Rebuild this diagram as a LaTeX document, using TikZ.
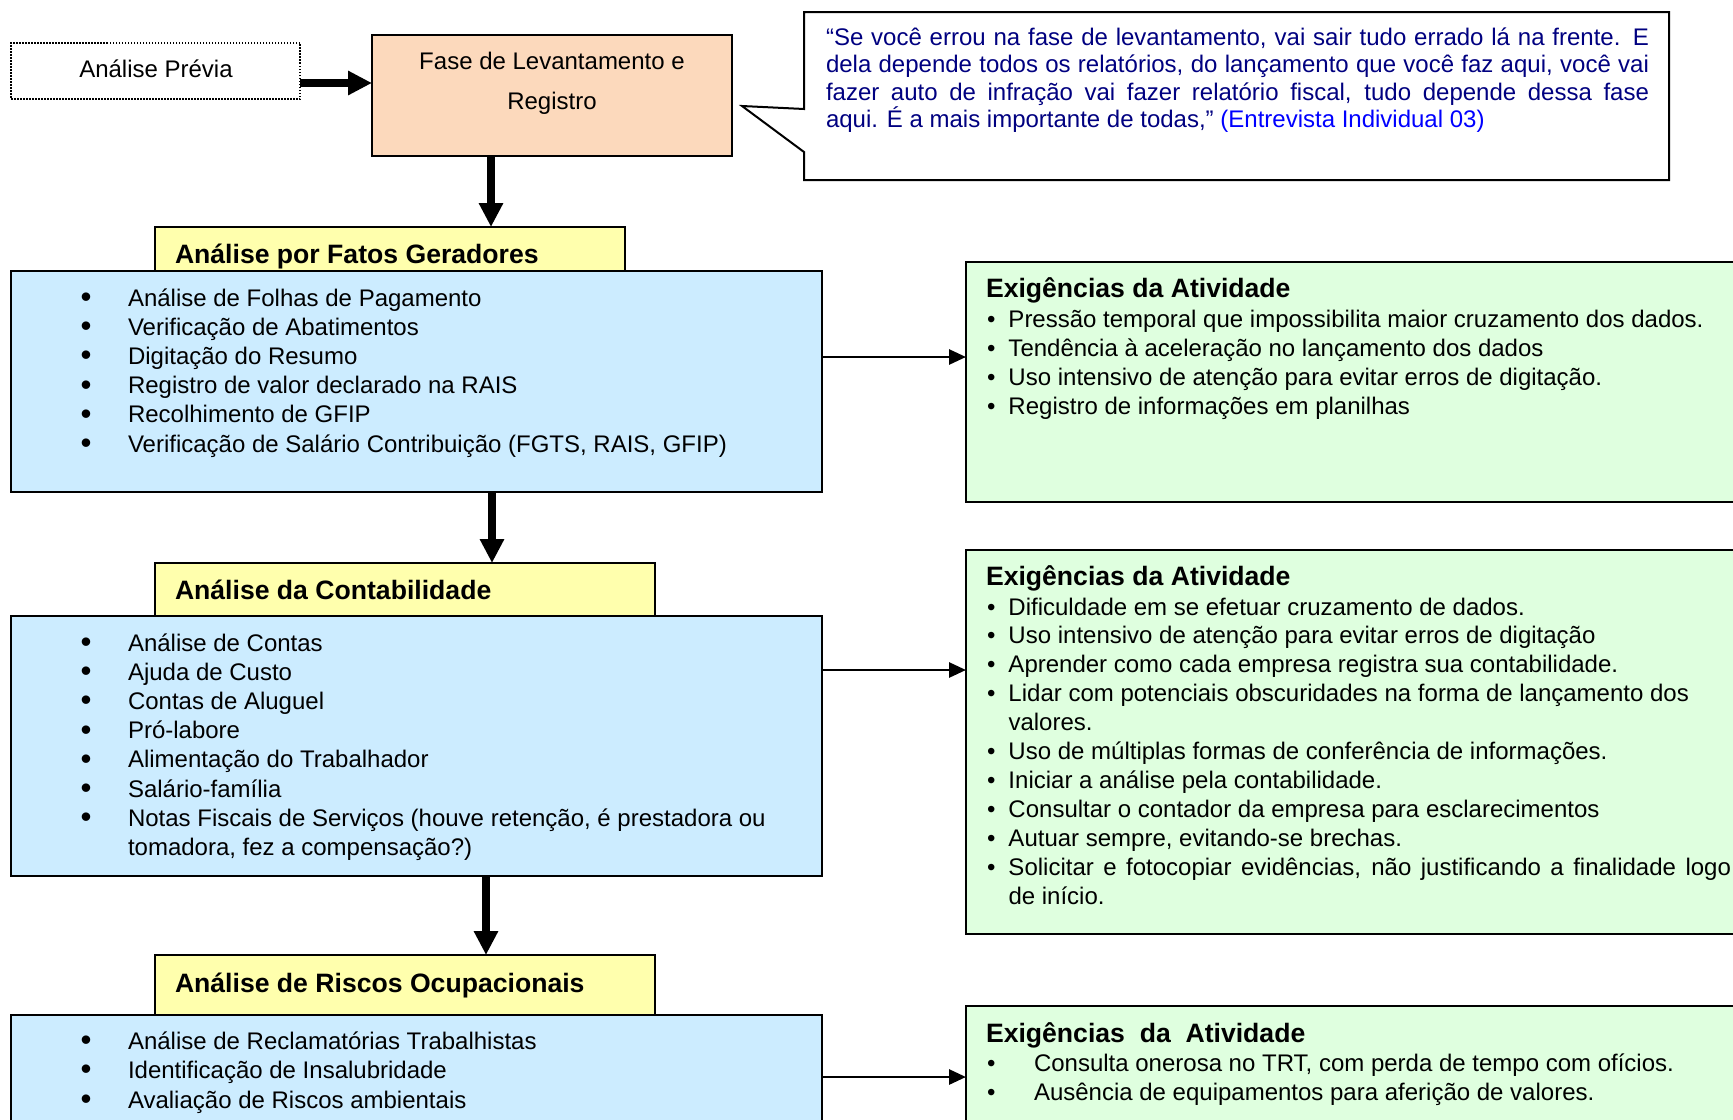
\documentclass[tikz,border=0pt]{standalone}
\usepackage{fontspec}
\setmainfont{Liberation Sans}
\usetikzlibrary{arrows.meta}

\definecolor{peach}{HTML}{FCD9BC}
\definecolor{paleyellow}{HTML}{FFFFAD}
\definecolor{paleblue}{HTML}{CCECFF}
\definecolor{palegreen}{HTML}{DFFFDF}
\definecolor{quotenavy}{HTML}{000080}
\definecolor{quoteblue}{HTML}{0000FF}

% one bulleted paragraph: indent, bullet, text
\newcommand\listline[3]{\par\hangindent=#1\hangafter=1\noindent\makebox[#1][l]{#2}#3}
\newcommand\bluitem[1]{\listline{23.75pt}{\raisebox{-0.06em}{\scalebox{1.3}{\textbullet}}}{#1}}
\newcommand\grnitem[1]{\listline{10.75pt}{\textbullet}{#1}}
\newcommand\grnwideitem[1]{\listline{23.5pt}{\textbullet}{#1}}

\tikzset{
  box/.style={draw=black, line width=1pt, inner sep=0pt, outer sep=0pt, anchor=north west},
  txt/.style={inner sep=0pt, outer sep=0pt, anchor=base west},
  bodyfont/.style={font=\fontsize{12}{14.6}\selectfont},
  headfont/.style={font=\fontsize{13.3}{16}\selectfont\bfseries},
  bigarrow/.style={line width=4pt, -{Triangle[length=12pt,width=11.5pt]}},
  thinarrow/.style={line width=1.4pt, -{Triangle[length=8.5pt,width=7.5pt]}},
}

\begin{document}
\begin{tikzpicture}[x={(0.5pt,0)}, y={(0,-0.5pt)}]
\useasboundingbox (0,0) rectangle (1733,1119);
\clip (0,0) rectangle (1733,1119);

% speech balloon with the interview quote
\draw[line width=1pt, fill=white] (804,12) -- (1669,12) -- (1669,180) -- (804,180)
  -- (804,152) -- (742,106) -- (804,109) -- cycle;
\node[txt, font=\fontsize{12}{13.65}\selectfont, text=quotenavy] (quote) at (826,45.5)
{\begin{minipage}[t]{411.5pt}%
\makebox[\linewidth][s]{“Se você errou na fase de levantamento, vai sair tudo errado lá na frente. E}\\
\makebox[\linewidth][s]{dela depende todos os relatórios, do lançamento que você faz aqui, você vai}\\
\makebox[\linewidth][s]{fazer auto de infração vai fazer relatório fiscal, tudo depende dessa fase}\\
aqui. É a mais importante de todas,” \textcolor{quoteblue}{(Entrevista Individual 03)}%
\end{minipage}};

% top row
\node[box, draw=black, dash pattern=on 0.75pt off 0.75pt, line width=0.75pt,
  minimum width=144.5pt, minimum height=28pt] (prev) at (11,43) {};
\node[box, fill=peach, minimum width=180pt, minimum height=60.5pt] (fase) at (372,35) {};

% section headers and their task lists
\node[box, fill=paleyellow, minimum width=235pt, minimum height=22pt] (hdrA) at (155,227) {};
\node[box, fill=paleblue, minimum width=405.5pt, minimum height=110.5pt] (listA) at (11,271) {};
\node[box, fill=paleyellow, minimum width=250pt, minimum height=26.5pt] (hdrB) at (155,563) {};
\node[box, fill=paleblue, minimum width=405.5pt, minimum height=130pt] (listB) at (11,616) {};
\node[box, fill=paleyellow, minimum width=250pt, minimum height=30pt] (hdrC) at (155,955) {};
\node[box, fill=paleblue, minimum width=405.5pt, minimum height=80pt] (listC) at (11,1015) {};

% activity demands
\node[box, fill=palegreen, minimum width=400pt, minimum height=120pt] (reqA) at (966,262) {};
\node[box, fill=palegreen, minimum width=400pt, minimum height=192pt] (reqB) at (966,550) {};
\node[box, fill=palegreen, minimum width=400pt, minimum height=80pt] (reqC) at (966,1006) {};

% connectors
\coordinate (rowA) at (0,83);
\draw[bigarrow] (prev.east |- rowA) -- (fase.west |- rowA);
\coordinate (colA) at (491,0);
\draw[bigarrow] (colA |- fase.south) -- (colA |- hdrA.north);
\coordinate (colB) at (492,0);
\draw[bigarrow] (colB |- listA.south) -- (colB |- hdrB.north);
\coordinate (colC) at (486,0);
\draw[bigarrow] (colC |- listB.south) -- (colC |- hdrC.north);

\coordinate (rowB) at (0,357);
\draw[thinarrow] (listA.east |- rowB) -- (reqA.west |- rowB);
\coordinate (rowC) at (0,670);
\draw[thinarrow] (listB.east |- rowC) -- (reqB.west |- rowC);
\coordinate (rowD) at (0,1077);
\draw[thinarrow] (listC.east |- rowD) -- (reqC.west |- rowD);

% texts
\node[inner sep=0pt, anchor=base, bodyfont] (prevTxt) at (156,77) {Análise Prévia};
\node[inner sep=0pt, anchor=base, font=\fontsize{12}{20}\selectfont] (faseTxt) at (552,69)
{\begin{minipage}[t]{170pt}\centering Fase de Levantamento e\\Registro\end{minipage}};

\node[txt, headfont] (hdrATxt) at (175,263) {Análise por Fatos Geradores};
\node[txt, headfont] (hdrBTxt) at (175,599) {Análise da Contabilidade};
\node[txt, headfont] (hdrCTxt) at (175,992) {Análise de Riscos Ocupacionais};

\node[txt, bodyfont] (itemsA) at (80.5,306)
{\begin{minipage}[t]{370pt}%
\bluitem{Análise de Folhas de Pagamento}
\bluitem{Verificação de Abatimentos}
\bluitem{Digitação do Resumo}
\bluitem{Registro de valor declarado na RAIS}
\bluitem{Recolhimento de GFIP}
\bluitem{Verificação de Salário Contribuição (FGTS, RAIS, GFIP)}
\end{minipage}};

\node[txt, bodyfont] (itemsB) at (80.5,651)
{\begin{minipage}[t]{370pt}%
\bluitem{Análise de Contas}
\bluitem{Ajuda de Custo}
\bluitem{Contas de Aluguel}
\bluitem{Pró-labore}
\bluitem{Alimentação do Trabalhador}
\bluitem{Salário-família}
\bluitem{Notas Fiscais de Serviços (houve retenção, é prestadora ou\newline tomadora, fez a compensação?)}
\end{minipage}};

\node[txt, font=\fontsize{12}{14.75}\selectfont] (itemsC) at (80.5,1049)
{\begin{minipage}[t]{370pt}%
\bluitem{Análise de Reclamatórias Trabalhistas}
\bluitem{Identificação de Insalubridade}
\bluitem{Avaliação de Riscos ambientais}
\end{minipage}};

\node[txt, headfont] (reqATxt) at (986,297) {Exigências da Atividade};
\node[txt, bodyfont] (needsA) at (987,327)
{\begin{minipage}[t]{372pt}%
\grnitem{Pressão temporal que impossibilita maior cruzamento dos dados.}
\grnitem{Tendência à aceleração no lançamento dos dados}
\grnitem{Uso intensivo de atenção para evitar erros de digitação.}
\grnitem{Registro de informações em planilhas}
\end{minipage}};

\node[txt, headfont] (reqBTxt) at (986,585) {Exigências da Atividade};
\node[txt, font=\fontsize{12}{14.45}\selectfont] (needsB) at (987,615)
{\begin{minipage}[t]{372pt}\tolerance=9999%
\grnitem{Dificuldade em se efetuar cruzamento de dados.}
\grnitem{Uso intensivo de atenção para evitar erros de digitação}
\grnitem{Aprender como cada empresa registra sua contabilidade.}
\grnitem{Lidar com potenciais obscuridades na forma de lançamento dos\newline valores.}
\grnitem{Uso de múltiplas formas de conferência de informações.}
\grnitem{Iniciar a análise pela contabilidade.}
\grnitem{Consultar o contador da empresa para esclarecimentos}
\grnitem{Autuar sempre, evitando-se brechas.}
\grnitem{Solicitar e fotocopiar evidências, não justificando a finalidade logo\linebreak de início.}
\end{minipage}};

\node[txt, headfont] (reqCTxt) at (986,1042) {Exigências\ \ da\ \ Atividade};
\node[txt, bodyfont] (needsC) at (987,1071)
{\begin{minipage}[t]{372pt}%
\grnwideitem{Consulta onerosa no TRT, com perda de tempo com ofícios.}
\grnwideitem{Ausência de equipamentos para aferição de valores.}
\end{minipage}};
\end{tikzpicture}
\end{document}
